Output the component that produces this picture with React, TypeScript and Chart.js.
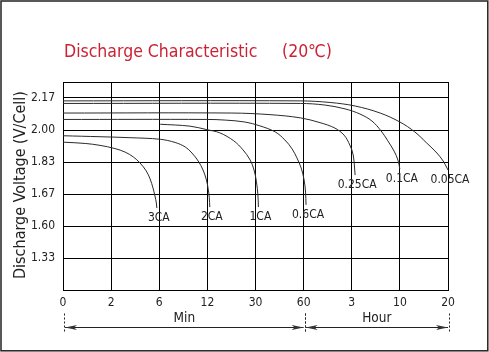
import React, { useEffect, useRef } from "react";
import { Chart, registerables } from "chart.js";

Chart.register(...registerables);

// ---- data (positions on the chart's index grid: x = tick index, y = tick index) ----
const titleMain = "Discharge Characteristic";
const titleTemp = "(20\u2103)";
const yAxisTitle = "Discharge Voltage (V/Cell)";
const xTickLabels = ["0", "2", "6", "12", "30", "60", "3", "10", "20"];
const yTickLabels = ["", "1.33", "1.60", "1.67", "1.83", "2.00", "2.17"];
const timeUnits = ["Min", "Hour"];
const unitSpanStart = [0, 5];
const unitSpanEnd = [5, 8];

const curveNames = ["3CA", "2CA", "1CA", "0.6CA", "0.25CA", "0.1CA", "0.05CA"];

const x3CA = [0, 0.46, 0.77, 1.08, 1.29, 1.46, 1.6, 1.73, 1.81, 1.87, 1.91, 1.94, 1.95];
const y3CA = [4.62, 4.58, 4.52, 4.42, 4.31, 4.16, 3.97, 3.72, 3.47, 3.19, 2.94, 2.72, 2.56];

const x2CA = [0, 0.77, 1.39, 2.02, 2.33, 2.54, 2.68, 2.81, 2.91, 2.98, 3.02, 3.04, 3.05];
const y2CA = [4.82, 4.79, 4.76, 4.71, 4.61, 4.47, 4.28, 4.03, 3.75, 3.44, 3.13, 2.88, 2.59];

const x1CA = [2.02, 2.64, 2.99, 3.26, 3.55, 3.74, 3.89, 3.97, 4.02, 4.05, 4.06];
const y1CA = [5.18, 5.12, 5.01, 4.91, 4.66, 4.38, 4.06, 3.75, 3.38, 2.97, 2.59];

const x06CA = [0, 2.99, 3.37, 3.78, 4.09, 4.41, 4.61, 4.76, 4.86, 4.95, 5.01, 5.04, 5.05];
const y06CA = [5.33, 5.33, 5.31, 5.25, 5.13, 4.94, 4.69, 4.41, 4.13, 3.81, 3.44, 3.06, 2.66];

const x025CA = [0, 3.51, 4.3, 4.93, 5.34, 5.65, 5.84, 5.96, 6.03, 6.07];
const y025CA = [5.53, 5.53, 5.48, 5.38, 5.23, 5.06, 4.84, 4.53, 4.22, 3.59];

const x01CA = [0, 4.93, 5.44, 5.86, 6.17, 6.42, 6.61, 6.75, 6.88, 6.96, 7.0];
const y01CA = [5.83, 5.83, 5.78, 5.66, 5.5, 5.28, 4.97, 4.66, 4.34, 4.06, 3.78];

const x005CA = [0, 4.93, 5.55, 6.07, 6.59, 7.0, 7.31, 7.56, 7.77, 7.9, 7.98, 8.0];
const y005CA = [5.91, 5.91, 5.86, 5.75, 5.53, 5.25, 4.94, 4.59, 4.28, 4.03, 3.81, 3.75];

const curveX = [x3CA, x2CA, x1CA, x06CA, x025CA, x01CA, x005CA];
const curveY = [y3CA, y2CA, y1CA, y06CA, y025CA, y01CA, y005CA];

const FONT = '"DejaVu Sans Condensed", "DejaVu Sans", sans-serif';

const overlay = {
  id: "overlay",
  afterDraw(chart: any) {
    const ctx = chart.ctx as CanvasRenderingContext2D;
    const xs = chart.scales.x;
    const ys = chart.scales.y;
    const ca = chart.chartArea;
    ctx.save();

    // outer frame
    ctx.strokeStyle = "#222";
    ctx.lineWidth = 1.5;
    ctx.strokeRect(1, 1, chart.width - 2.2, chart.height - 2.2);

    // title
    ctx.fillStyle = "#cc2233";
    ctx.font = "17.5px " + FONT;
    ctx.textAlign = "left";
    ctx.textBaseline = "alphabetic";
    ctx.fillText(titleMain, ca.left + 1, ca.top - 25);
    ctx.fillText(titleTemp, ca.left + 219, ca.top - 25);

    // y axis title
    ctx.fillStyle = "#222";
    ctx.save();
    ctx.translate(24.5, (ca.top + ca.bottom) / 2 - 1);
    ctx.rotate(-Math.PI / 2);
    ctx.font = "16px " + FONT;
    ctx.textAlign = "center";
    ctx.textBaseline = "alphabetic";
    ctx.fillText(yAxisTitle, 0, 0);
    ctx.restore();

    // y tick labels
    ctx.font = "12px " + FONT;
    ctx.textAlign = "right";
    ctx.textBaseline = "middle";
    yTickLabels.forEach((t, i) => {
      if (t) ctx.fillText(t, ca.left - 8, ys.getPixelForValue(i));
    });

    // x tick labels
    ctx.textAlign = "center";
    xTickLabels.forEach((t, i) => {
      ctx.fillText(t, xs.getPixelForValue(i), ca.bottom + 13);
    });

    // curve labels
    ctx.font = "12px " + FONT;
    curveNames.forEach((name, k) => {
      const xa = curveX[k];
      const ya = curveY[k];
      const px = xs.getPixelForValue(xa[xa.length - 1]);
      const py = ys.getPixelForValue(ya[ya.length - 1]);
      ctx.fillText(name, px + 2, py + 10);
    });

    // unit spans with arrows
    const ay = ca.bottom + 37.5;
    ctx.strokeStyle = "#222";
    ctx.lineWidth = 1;
    timeUnits.forEach((u, k) => {
      const x0 = xs.getPixelForValue(unitSpanStart[k]) + 1;
      const x1 = xs.getPixelForValue(unitSpanEnd[k]) + 1;
      // dashed end ticks
      ctx.setLineDash([2, 2]);
      [x0, x1].forEach((xx) => {
        ctx.beginPath();
        ctx.moveTo(Math.round(xx) + 0.5, ay - 14);
        ctx.lineTo(Math.round(xx) + 0.5, ay + 6);
        ctx.stroke();
      });
      ctx.setLineDash([]);
      ctx.beginPath();
      ctx.moveTo(x0 + 1, ay);
      ctx.lineTo(x1 - 1, ay);
      ctx.stroke();
      ctx.fillStyle = "#333";
      ctx.beginPath();
      ctx.moveTo(x0 + 1, ay);
      ctx.lineTo(x0 + 13, ay - 2.5);
      ctx.lineTo(x0 + 10, ay);
      ctx.lineTo(x0 + 13, ay + 2.5);
      ctx.closePath();
      ctx.fill();
      ctx.beginPath();
      ctx.moveTo(x1 - 1, ay);
      ctx.lineTo(x1 - 13, ay - 2.5);
      ctx.lineTo(x1 - 10, ay);
      ctx.lineTo(x1 - 13, ay + 2.5);
      ctx.closePath();
      ctx.fill();
      ctx.fillStyle = "#222";
      ctx.font = "13.5px " + FONT;
      ctx.textAlign = "center";
      ctx.textBaseline = "middle";
      ctx.fillText(u, (x0 + x1) / 2, ay - 9);
    });

    ctx.restore();
  },
};

export default function App() {
  const ref = useRef<HTMLCanvasElement | null>(null);
  useEffect(() => {
    if (!ref.current) return;
    const datasets = curveNames.map((name, k) => ({
      label: name,
      data: curveX[k].map((x, i) => ({ x, y: curveY[k][i] })),
      showLine: true,
      borderColor: "#2a2a2a",
      borderWidth: 1,
      pointRadius: 0,
      tension: 0.35,
      fill: false,
      clip: false as any,
    }));
    const chart = new Chart(ref.current, {
      type: "scatter",
      data: { datasets },
      options: {
        animation: false,
        responsive: false,
        maintainAspectRatio: false,
        layout: { padding: { left: 63, right: 41, top: 82, bottom: 62 } },
        plugins: { legend: { display: false }, tooltip: { enabled: false }, title: { display: false } },
        scales: {
          x: {
            type: "linear",
            min: 0,
            max: 8,
            ticks: { display: false, stepSize: 1 },
            grid: { color: "#000", lineWidth: 1, drawTicks: false },
            border: { display: true, color: "#000" },
          },
          y: {
            type: "linear",
            min: 0,
            max: 6.5,
            ticks: { display: false, stepSize: 1 },
            grid: { color: "#000", lineWidth: 1, drawTicks: false },
            border: { display: true, color: "#000" },
          },
        },
      },
      plugins: [overlay],
    });
    return () => chart.destroy();
  }, []);
  return (
    <div style={{ position: "absolute", left: 0, top: 0, width: 489, height: 352, background: "#fff" }}>
      <canvas ref={ref} width={489} height={352} style={{ display: "block", width: 489, height: 352 }} />
    </div>
  );
}
